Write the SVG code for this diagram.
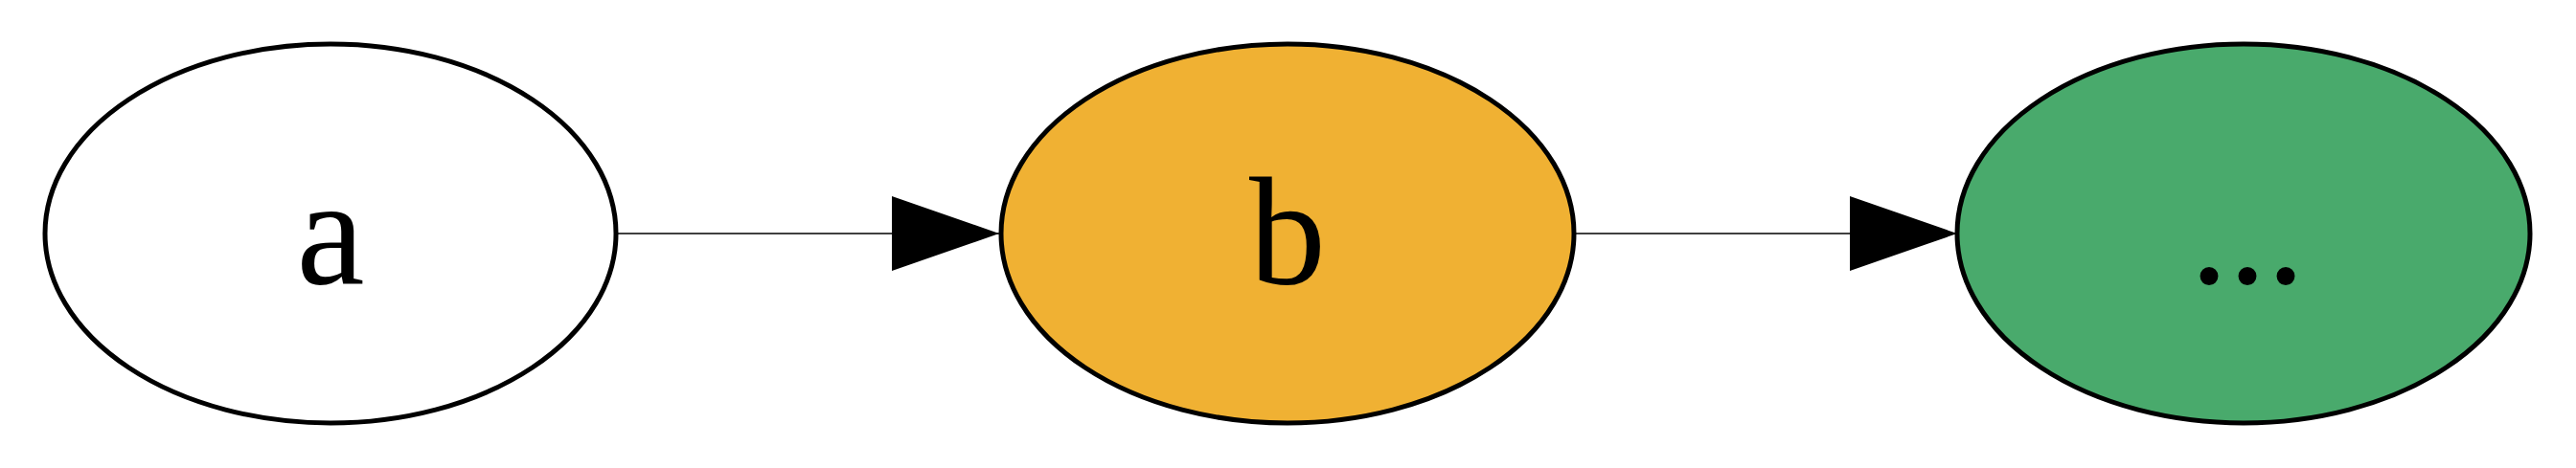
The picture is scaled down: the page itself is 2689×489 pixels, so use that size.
<svg xmlns="http://www.w3.org/2000/svg" width="2689" height="489" viewBox="0 0 2689 489">
<style>
.node{stroke:#000;stroke-width:5}
.edge{stroke:#000;stroke-width:1.5;fill:none}
</style>
<defs>
<marker id="arr" markerUnits="userSpaceOnUse" markerWidth="112" markerHeight="78" refX="112" refY="39" orient="auto" viewBox="0 0 112 78">
<path d="M0,0 L112,39 L0,78 Z" fill="#000"/>
</marker>
</defs>
<rect width="2689" height="489" fill="#fff"/>
<g id="edges">
<path class="edge" d="M643,244 L1043,244" marker-end="url(#arr)"/>
<path class="edge" d="M1643,244 L2043,244" marker-end="url(#arr)"/>
</g>
<g font-family="Times New Roman, Liberation Serif, serif" font-size="160" text-anchor="middle" fill="#000">
<g id="node-a">
<ellipse class="node" cx="345" cy="244" rx="298" ry="198" fill="#fff"/>
<text x="345" y="296">a</text>
</g>
<g id="node-b">
<ellipse class="node" cx="1344" cy="244" rx="299" ry="198" fill="#f0b133"/>
<text x="1344" y="296">b</text>
</g>
<g id="node-c">
<ellipse class="node" cx="2342" cy="244" rx="299" ry="198" fill="#49aa6c"/>
<text x="2346" y="296">...</text>
</g>
</g>
</svg>
